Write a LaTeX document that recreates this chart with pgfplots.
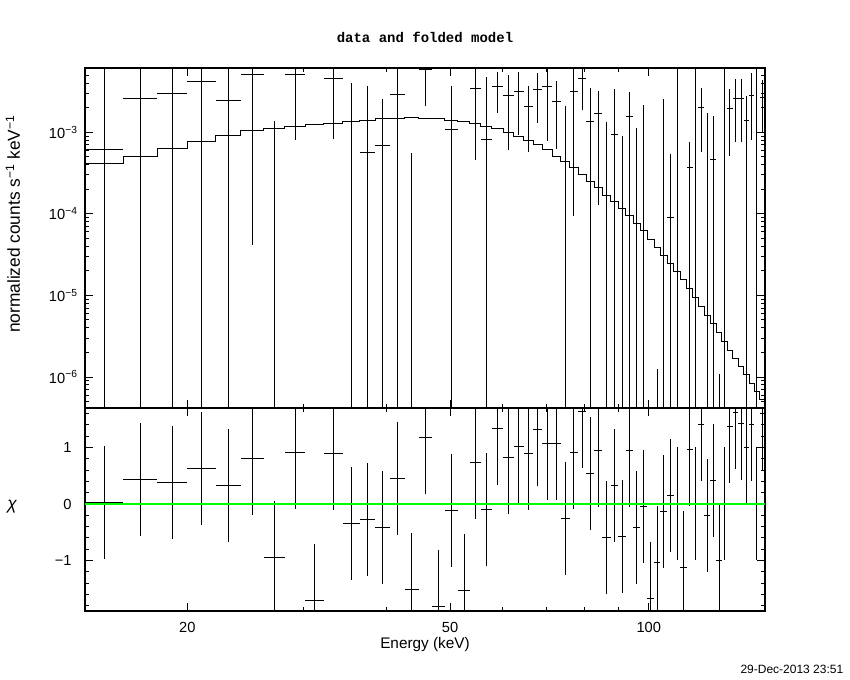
\documentclass[border=0pt]{standalone}
\usepackage{fontspec}
\setmainfont{Liberation Sans}
\newfontfamily\titlefont{Liberation Mono}
\usepackage{pgfplots}
\usepackage{pgfplotstable}
\pgfplotsset{compat=1.18}
\definecolor{xgreen}{RGB}{0,255,0}

% bins: energy edges (keV), data (normalized counts/s/keV) with lower/upper error ends, chi residual
\pgfplotstableread{
elo ehi y ylo yhi chi
14.0 16.0 6.07e-4 1e-8 1e-1 0.03
16.0 18.0 2.61e-3 1e-8 1e-1 0.44
18.0 20.0 3.00e-3 1e-8 1e-1 0.38
20.0 22.1 4.22e-3 1e-8 1e-1 0.63
22.1 24.1 2.46e-3 1e-8 1e-1 0.33
24.1 26.1 5.04e-3 4.11e-5 1.0e-2 0.81
26.1 28.1 1e-8 1e-9 1.38e-3 -0.94
28.1 30.2 5.04e-3 8.04e-4 9.3e-3 0.91
30.2 32.2 1e-8 1e-9 3e-7 -1.70
32.2 34.4 4.59e-3 8.35e-4 8.3e-3 0.90
34.4 36.5 1e-8 1e-9 4.02e-3 -0.34
36.5 38.5 5.73e-4 1e-9 3.69e-3 -0.27
38.5 40.6 6.92e-4 1e-9 2.56e-3 -0.41
40.6 42.7 2.92e-3 1e-9 6.3e-3 0.45
42.7 44.8 1e-8 1e-9 5.58e-4 -1.51
44.8 47.0 5.92e-3 2.12e-3 9.7e-3 1.18
47.0 49.1 1e-8 1e-9 3e-7 -1.81
49.1 51.4 1.09e-3 1e-9 3.69e-3 -0.11
51.4 53.6 1e-8 1e-9 3e-7 -1.53
53.6 55.7 3.46e-3 4.62e-4 6.5e-3 0.74
55.7 57.8 8.20e-4 1e-9 4.81e-3 -0.09
57.8 60.2 3.69e-3 1.71e-3 5.48e-3 1.34
60.2 62.4 2.79e-3 6.01e-4 5.04e-3 0.83
62.4 64.7 3.18e-3 9.35e-4 5.48e-3 1.02
64.7 66.8 2.08e-3 5.79e-4 3.69e-3 0.89
66.8 69.0 3.36e-3 1.31e-3 5.33e-3 1.32
69.0 71.4 3.69e-3 7.90e-4 6.6e-3 1.07
71.4 73.6 2.40e-3 6.24e-4 4.25e-3 1.07
73.6 75.9 1e-8 1e-9 2.10e-3 -0.25
75.9 78.2 3.18e-3 9.33e-5 6.3e-3 0.91
78.2 80.4 4.59e-3 1.88e-3 7.3e-3 1.63
80.4 82.7 1.36e-3 1e-9 3.49e-3 0.54
82.7 85.0 1.68e-3 1.28e-4 3.21e-3 0.95
85.0 87.6 1e-8 1e-9 1.34e-3 -0.60
87.6 89.9 9.44e-4 1e-9 3.40e-3 0.33
89.9 92.3 1e-8 1e-9 9.01e-4 -0.57
92.3 94.8 1.57e-3 1e-9 3.12e-3 0.95
94.8 97.0 1e-8 1e-9 1.13e-3 -0.41
97.0 99.4 1e-8 1e-9 2.16e-3 -0.04
99.4 101.9 1e-8 1e-9 3e-7 -1.67
101.9 104.1 1e-8 1e-9 1.25e-6 -1.03
104.1 106.7 1e-8 1e-9 2.56e-3 -0.13
106.7 109.2 9.15e-5 1e-9 5.42e-4 0.15
109.2 111.6 1.96e-5 1e-9 1e-1 0.00
111.6 114.2 1e-8 1e-9 3e-7 -1.12
114.2 116.6 3.72e-4 1e-9 7.67e-4 0.97
116.6 118.9 9.48e-6 1e-9 1e-1 0.00
118.9 121.4 2.02e-3 5.79e-4 3.49e-3 1.41
121.4 123.9 1e-8 1e-9 1.74e-3 -0.20
123.9 126.6 4.58e-4 1e-9 1.58e-3 0.41
126.6 129.1 1e-8 1e-9 1.09e-6 -1.00
129.1 131.5 2.71e-6 1e-9 1e-1 0.00
131.5 134.0 1.97e-3 5.17e-4 3.40e-3 1.38
134.0 136.7 2.61e-3 7.60e-4 4.50e-3 1.62
136.7 139.3 2.61e-3 7.67e-4 4.50e-3 1.43
139.3 141.9 1.40e-3 1e-9 2.79e-3 1.00
141.9 144.5 2.81e-3 8.04e-4 5.28e-3 1.41
144.5 147.2 6.61e-7 1e-9 1e-1 0.00
147.2 150.0 2.66e-3 9.99e-4 4.38e-3 1.61
}\bins

% folded model: left bin edge and value (last row closes the final bin)
\pgfplotstableread{
e m
14.0 4.16e-4
16.0 5.03e-4
18.0 6.30e-4
20.0 7.82e-4
22.1 9.18e-4
24.1 1.04e-3
26.1 1.11e-3
28.1 1.18e-3
30.2 1.25e-3
32.2 1.29e-3
34.4 1.35e-3
36.5 1.40e-3
38.5 1.47e-3
40.6 1.48e-3
42.7 1.51e-3
44.8 1.48e-3
47.0 1.46e-3
49.1 1.40e-3
51.4 1.35e-3
53.6 1.29e-3
55.7 1.18e-3
57.8 1.11e-3
60.2 9.99e-4
62.4 8.92e-4
64.7 7.97e-4
66.8 6.99e-4
69.0 6.07e-4
71.4 5.03e-4
73.6 4.37e-4
75.9 3.65e-4
78.2 3.05e-4
80.4 2.51e-4
82.7 2.08e-4
85.0 1.70e-4
87.6 1.41e-4
89.9 1.16e-4
92.3 9.50e-5
94.8 7.58e-5
97.0 6.17e-5
99.4 4.87e-5
101.9 3.89e-5
104.1 3.10e-5
106.7 2.47e-5
109.2 1.96e-5
111.6 1.55e-5
114.2 1.20e-5
116.6 9.48e-6
118.9 7.42e-6
121.4 5.70e-6
123.9 4.47e-6
126.6 3.53e-6
129.1 2.71e-6
131.5 2.14e-6
134.0 1.69e-6
136.7 1.34e-6
139.3 1.07e-6
141.9 8.36e-7
144.5 6.61e-7
147.2 5.37e-7
150.0 5.37e-7
}\modeltab

\begin{document}
\begin{tikzpicture}
\path[use as bounding box] (0,0) rectangle (637.5pt,510pt);

\begin{axis}[
  at={(63.75pt,204pt)}, anchor=south west,
  scale only axis, width=510pt, height=255pt,
  xmode=log, ymode=log,
  xmin=14, xmax=150, ymin=4.17e-7, ymax=6.14e-3,
  xtick={20,50,100}, minor xtick={30,40,60,70,80,90},
  xticklabels={},
  ytick={1e-6,1e-5,1e-4,1e-3},
  yticklabels={10\textsuperscript{−6},10\textsuperscript{−5},10\textsuperscript{−4},10\textsuperscript{−3}},
  minor ytick={5e-7,6e-7,7e-7,8e-7,9e-7,2e-6,3e-6,4e-6,5e-6,6e-6,7e-6,8e-6,9e-6,2e-5,3e-5,4e-5,5e-5,6e-5,7e-5,8e-5,9e-5,2e-4,3e-4,4e-4,5e-4,6e-4,7e-4,8e-4,9e-4,2e-3,3e-3,4e-3,5e-3,6e-3},
  major tick length=5.8pt, minor tick length=3pt,
  axis line style={line width=0.8pt},
  every tick/.style={black, line width=0.75pt},
  tick label style={font=\fontsize{11}{13}\selectfont},
  yticklabel style={xshift=-2pt},
]
\addplot[black, line width=0.75pt, const plot] table[x=e, y=m] {\modeltab};
\addplot[draw=none, mark=none,
  error bars/x dir=both, error bars/x explicit,
  error bars/y dir=both, error bars/y explicit,
  error bars/error mark=none,
  error bars/error bar style={draw=black, line width=0.75pt}]
  table[
  x expr={(\thisrow{elo}+\thisrow{ehi})/2}, y=y,
  x error plus expr={(\thisrow{ehi}-\thisrow{elo})/2},
  x error minus expr={(\thisrow{ehi}-\thisrow{elo})/2},
  y error plus expr={\thisrow{yhi}-\thisrow{y}},
  y error minus expr={\thisrow{y}-\thisrow{ylo}}] {\bins};
\end{axis}

\begin{axis}[
  at={(63.75pt,51.75pt)}, anchor=south west,
  scale only axis, width=510pt, height=152.25pt,
  xmode=log,
  xmin=14, xmax=150, ymin=-1.894, ymax=1.699,
  xtick={20,50,100}, minor xtick={30,40,60,70,80,90},
  xticklabels={20,50,100},
  xticklabel style={yshift=-5pt},
  ytick={-1,0,1}, yticklabels={−1,0,1},
  minor ytick={-1.8,-1.6,-1.4,-1.2,-0.8,-0.6,-0.4,-0.2,0.2,0.4,0.6,0.8,1.2,1.4,1.6},
  major tick length=5.8pt, minor tick length=3pt,
  axis line style={line width=0.8pt},
  every tick/.style={black, line width=0.75pt},
  tick label style={font=\fontsize{11}{13}\selectfont},
  yticklabel style={xshift=-6.5pt},
]
\addplot[draw=none, mark=none,
  error bars/x dir=both, error bars/x explicit,
  error bars/y dir=both, error bars/y explicit,
  error bars/error mark=none,
  error bars/error bar style={draw=black, line width=0.75pt}]
  table[
  x expr={(\thisrow{elo}+\thisrow{ehi})/2}, y=chi,
  x error plus expr={(\thisrow{ehi}-\thisrow{elo})/2},
  x error minus expr={(\thisrow{ehi}-\thisrow{elo})/2},
  y error plus expr={1}, y error minus expr={1}] {\bins};
\addplot[xgreen, line width=1.5pt] coordinates {(14,0) (150,0)};
\end{axis}

\node[font=\titlefont\bfseries\fontsize{10.5}{12}\selectfont] at (318.75pt,481.6pt) {data and folded model};
\node[font=\fontsize{11.5}{13}\selectfont] at (318.75pt,26.25pt) {Energy (keV)};
\node[font=\fontsize{13}{15}\selectfont, rotate=90] at (9.75pt,342pt) {normalized counts s\textsuperscript{−1} keV\textsuperscript{−1}};
\node[font=\itshape\fontsize{13}{15}\selectfont] at (9pt,129.75pt) {χ};
\node[font=\fontsize{9}{11}\selectfont, anchor=east] at (636pt,8.25pt) {29-Dec-2013 23:51};
\end{tikzpicture}
\end{document}
